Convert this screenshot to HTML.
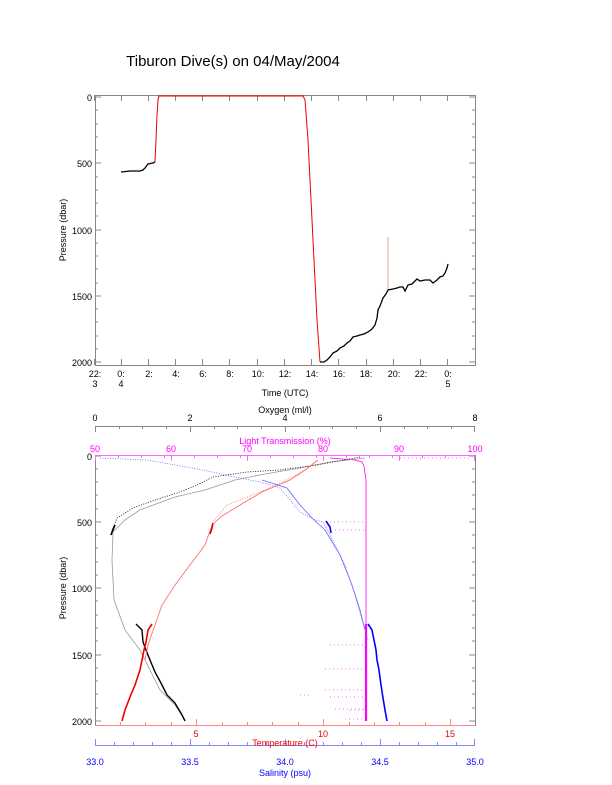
<!DOCTYPE html>
<html><head><meta charset="utf-8"><style>
body{margin:0;background:#fff}
svg{display:block;font-family:"Liberation Sans",sans-serif}
</style></head><body>
<svg width="612" height="785" viewBox="0 0 612 785" xmlns="http://www.w3.org/2000/svg">
<rect width="612" height="785" fill="#fff"/>
<text x="233" y="66" font-size="15" text-anchor="middle">Tiburon Dive(s) on 04/May/2004</text>

<!-- Top chart -->
<rect x="95.5" y="95.5" width="380" height="270" fill="none" stroke="#888"/>
<g stroke="#888" stroke-width="1">
<path d="M95 97h6M95 110h3M95 124h3M95 137h3M95 150h3M95 163h6M95 177h3M95 190h3M95 203h3M95 216h3M95 230h6M95 243h3M95 256h3M95 269h3M95 283h3M95 296h6M95 309h3M95 322h3M95 336h3M95 349h3M95 362h6"/>
<path d="M475 97h-6M475 110h-3M475 124h-3M475 137h-3M475 150h-3M475 163h-6M475 177h-3M475 190h-3M475 203h-3M475 216h-3M475 230h-6M475 243h-3M475 256h-3M475 269h-3M475 283h-3M475 296h-6M475 309h-3M475 322h-3M475 336h-3M475 349h-3M475 362h-6"/>
<path d="M94.5 365v-6M121.5 365v-6M148.5 365v-6M175.5 365v-6M202.5 365v-6M229.5 365v-6M257.5 365v-6M284.5 365v-6M311.5 365v-6M338.5 365v-6M366.5 365v-6M393.5 365v-6M420.5 365v-6M447.5 365v-6"/>
<path d="M94.5 95v6M121.5 95v6M148.5 95v6M175.5 95v6M202.5 95v6M229.5 95v6M257.5 95v6M284.5 95v6M311.5 95v6M338.5 95v6M366.5 95v6M393.5 95v6M420.5 95v6M447.5 95v6"/>
</g>
<g font-size="9" text-anchor="end">
<text x="92" y="101">0</text><text x="92" y="167">500</text><text x="92" y="234">1000</text><text x="92" y="300">1500</text><text x="92" y="366">2000</text>
</g>
<g font-size="9" text-anchor="middle">
<text x="95" y="377">22:</text><text x="95" y="387">3</text>
<text x="121" y="377">0:</text><text x="121" y="387">4</text>
<text x="149" y="377">2:</text><text x="176" y="377">4:</text><text x="203" y="377">6:</text><text x="230" y="377">8:</text>
<text x="258" y="377">10:</text><text x="285" y="377">12:</text><text x="312" y="377">14:</text><text x="339" y="377">16:</text>
<text x="366" y="377">18:</text><text x="394" y="377">20:</text><text x="421" y="377">22:</text>
<text x="448" y="377">0:</text><text x="448" y="387">5</text>
<text x="285" y="396">Time (UTC)</text>
</g>
<text transform="translate(66,230) rotate(-90)" font-size="9" text-anchor="middle">Pressure (dbar)</text>

<polyline fill="none" stroke="#e00" stroke-width="1" points="155,162 156,140 157,115 158,100 159,96 300,96 303,96 305,100 308,140 311,200 314,260 317,320 320,362"/>
<polyline fill="none" stroke="#f99" stroke-width="1" points="388,290 388,237"/>
<polyline fill="none" stroke="#000" stroke-width="1.3" points="121,172 130,171 140,171 143,170 145,168 148,164 153,163 155,162"/>
<polyline fill="none" stroke="#000" stroke-width="1.3" points="320,362 324,362 327,360 330,357 333,353 337,351 340,348 344,346 347,343 350,341 353,337 357,336 360,335 364,334 368,332 372,329 375,325 377,318 378,310 380,306 383,298 386,294 388,290 393,289 397,288 400,287 403,287 405,291 408,285 412,284 417,279 420,281 425,280 430,280 433,283 437,280 440,277 443,276 445,273 447,268 448,264"/>

<!-- Bottom chart -->
<rect x="95.5" y="455.5" width="380" height="270" fill="none" stroke="#888"/>
<g stroke="#888" stroke-width="1">
<path d="M95 456h6M95 469h3M95 482h3M95 495h3M95 509h3M95 522h6M95 535h3M95 548h3M95 562h3M95 575h3M95 588h6M95 601h3M95 615h3M95 628h3M95 641h3M95 655h6M95 668h3M95 681h3M95 694h3M95 708h3M95 721h6"/>
<path d="M475 456h-6M475 469h-3M475 482h-3M475 495h-3M475 509h-3M475 522h-6M475 535h-3M475 548h-3M475 562h-3M475 575h-3M475 588h-6M475 601h-3M475 615h-3M475 628h-3M475 641h-3M475 655h-6M475 668h-3M475 681h-3M475 694h-3M475 708h-3M475 721h-6"/>
<path d="M95 426.5h380M95.5 426v6M119.5 426v3M142.5 426v3M166.5 426v3M190.5 426v6M214.5 426v3M237.5 426v3M261.5 426v3M285.5 426v6M309.5 426v3M332.5 426v3M356.5 426v3M380.5 426v6M404.5 426v3M427.5 426v3M451.5 426v3M474.5 426v6"/>
<g stroke="#88f"><path d="M95 745.5h380M95.5 745v-6M114.5 745v-3M133.5 745v-3M152.5 745v-3M171.5 745v-3M190.5 745v-6M209.5 745v-3M228.5 745v-3M247.5 745v-3M266.5 745v-3M285.5 745v-6M304.5 745v-3M323.5 745v-3M342.5 745v-3M361.5 745v-3M380.5 745v-6M399.5 745v-3M418.5 745v-3M437.5 745v-3M456.5 745v-3M474.5 745v-6"/></g>
</g>
<g stroke="#f6f" stroke-width="1"><path d="M95 455.5h380M95.5 455v6M118.5 455v3M141.5 455v3M164.5 455v3M171.5 455v6M194.5 455v3M217.5 455v3M240.5 455v3M247.5 455v6M270.5 455v3M293.5 455v3M316.5 455v3M323.5 455v6M346.5 455v3M369.5 455v3M392.5 455v3M399.5 455v6M422.5 455v3M445.5 455v3M474.5 455v6"/></g>
<g stroke="#f88" stroke-width="1"><path d="M95 725.5h380M120.5 725v-3M145.5 725v-3M171.5 725v-3M196.5 725v-6M222.5 725v-3M247.5 725v-3M272.5 725v-3M298.5 725v-3M323.5 725v-6M349.5 725v-3M374.5 725v-3M399.5 725v-3M425.5 725v-3M450.5 725v-6"/></g>

<g font-size="9" text-anchor="middle">
<text x="95" y="421">0</text><text x="190" y="421">2</text><text x="285" y="421">4</text><text x="380" y="421">6</text><text x="475" y="421">8</text>
<text x="285" y="413">Oxygen (ml/l)</text>
<g fill="#f0f"><text x="95" y="452">50</text><text x="171" y="452">60</text><text x="247" y="452">70</text><text x="323" y="452">80</text><text x="399" y="452">90</text><text x="475" y="452">100</text>
<text x="285" y="444">Light Transmission (%)</text></g>
<g fill="#e00"><text x="196" y="737">5</text><text x="323" y="737">10</text><text x="450" y="737">15</text><text x="285" y="746">Temperature (C)</text></g>
<g fill="#00f"><text x="95" y="765">33.0</text><text x="190" y="765">33.5</text><text x="285" y="765">34.0</text><text x="380" y="765">34.5</text><text x="475" y="765">35.0</text><text x="285" y="776">Salinity (psu)</text></g>
</g>
<g font-size="9" text-anchor="end">
<text x="92" y="460">0</text><text x="92" y="526">500</text><text x="92" y="592">1000</text><text x="92" y="659">1500</text><text x="92" y="725">2000</text>
</g>
<text transform="translate(66,588) rotate(-90)" font-size="9" text-anchor="middle">Pressure (dbar)</text>

<!-- magenta -->
<g stroke="#f0f" fill="none">
<polyline points="330,458 355,460 362,462 364,466 366,480 366,560 366,640" stroke-width="0.8"/>
<polyline points="366,624 366,721" stroke-width="2.2"/>
<g stroke-width="1" stroke-dasharray="1,3" opacity="0.6">
<path d="M330 645h36M325 669h41M325 690h41M330 697h36M335 709h31M300 695h10M350 710h16M345 719h21M330 522h36M335 530h31M400 458h70"/>
</g>
</g>
<!-- oxygen -->
<polyline fill="none" stroke="#999" stroke-width="0.8" points="365,458 330,462 300,468 265,474 235,480 205,490 175,497 140,510 125,520 113,532 112,560 114,600 125,630 140,650 150,670 160,690 175,705 185,720"/>
<polyline fill="none" stroke="#000" stroke-width="0.8" stroke-dasharray="1,1.5" points="360,457 317,465 280,470 247,472 213,477 195,486 177,493 155,500 133,508 117,518 112,530"/>
<polyline fill="none" stroke="#000" stroke-width="1.6" points="115,525 112,532 111,535"/>
<polyline fill="none" stroke="#000" stroke-width="1.4" points="136,624 142,630 143,642 146,650 150,660 155,672 162,685 167,695 175,703 182,715 185,721"/>
<!-- temperature -->
<polyline fill="none" stroke="#f66" stroke-width="0.8" points="318,460 305,470 290,480 262,492 240,505 222,516 212,525 205,545 190,565 175,585 162,605 155,625 148,645 145,660"/>
<polyline fill="none" stroke="#f66" stroke-width="0.8" stroke-dasharray="1,1.5" points="313,465 293,477 260,492 227,505 213,522"/>
<polyline fill="none" stroke="#e00" stroke-width="1.6" points="213,523 212,528 210,534"/>
<polyline fill="none" stroke="#e00" stroke-width="1.6" points="152,624 148,630 146,642 144,650 142,660 140,670 135,685 130,697 125,710 122,721"/>
<!-- salinity -->
<polyline fill="none" stroke="#66f" stroke-width="0.8" stroke-dasharray="1,1.5" points="100,458 147,460 175,465 203,470 230,476 260,482 280,488 290,500 300,512 315,520 323,522 330,535 345,565 355,595 362,620 368,640"/>
<polyline fill="none" stroke="#66f" stroke-width="0.8" points="262,480 287,488 300,505 312,518 325,530 340,555 352,585 360,610 365,630"/>
<polyline fill="none" stroke="#00f" stroke-width="1.6" points="326,521 330,527 331,533"/>
<polyline fill="none" stroke="#00f" stroke-width="1.6" points="368,624 372,630 374,640 376,650 377,660 379,670 381,685 383,698 385,710 387,721"/>
</svg>
</body></html>
